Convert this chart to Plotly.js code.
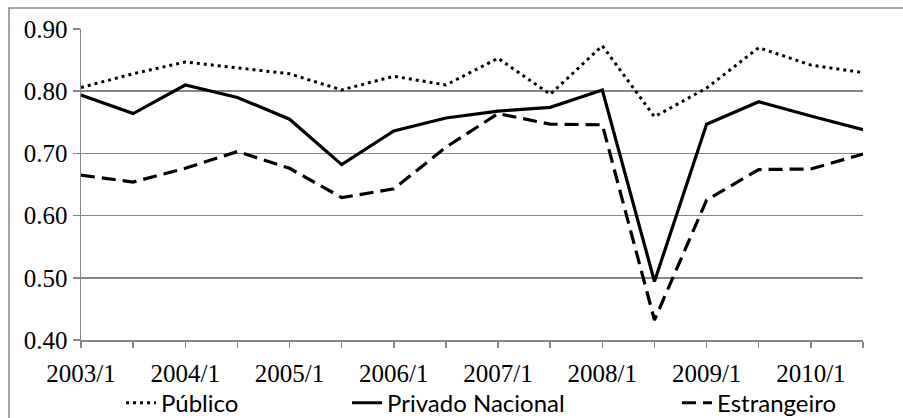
<!DOCTYPE html>
<html>
<head>
<meta charset="utf-8">
<script src="https://cdn.plot.ly/plotly-3.0.1.min.js"></script>
<style>html,body{margin:0;padding:0;background:#fff;}#chart{width:903px;height:418px;}</style>
</head>
<body>
<div id="chart"></div>
<script>
const periods = ["2003/1","2003/2","2004/1","2004/2","2005/1","2005/2","2006/1","2006/2",
                 "2007/1","2007/2","2008/1","2008/2","2009/1","2009/2","2010/1","2010/2"];
const publico = [0.806,0.828,0.847,0.837,0.828,0.802,0.824,0.810,0.853,0.795,0.873,0.759,0.805,0.870,0.842,0.830];
const privadoNacional = [0.794,0.764,0.810,0.790,0.755,0.682,0.736,0.757,0.768,0.774,0.802,0.494,0.747,0.783,0.760,0.738];
const estrangeiro = [0.665,0.654,0.676,0.703,0.676,0.629,0.643,0.710,0.764,0.747,0.746,0.432,0.625,0.674,0.675,0.699];
const seriesNames = ["Público","Privado Nacional","Estrangeiro"];
const yTicks = [0.40,0.50,0.60,0.70,0.80,0.90];

const tickText = periods.map((p,i)=> i%2===0 ? p : "");

const traces = [
  {x: periods, y: publico, name: seriesNames[0], type:'scatter', mode:'lines',
   line:{color:'#000', width:3, dash:'3px,4px'}, legend:'legend'},
  {x: periods, y: privadoNacional, name: seriesNames[1], type:'scatter', mode:'lines',
   line:{color:'#000', width:3.2}, legend:'legend2'},
  {x: periods, y: estrangeiro, name: seriesNames[2], type:'scatter', mode:'lines',
   line:{color:'#000', width:3.2, dash:'14px,7px'}, legend:'legend3'}
];

const serifFont = {family:'Liberation Serif', size:25, color:'#000'};
const legendFont = {family:'Lato', size:24, color:'#000'};
const legBase = {orientation:'h', yanchor:'middle', xanchor:'left', y:-0.203,
                 font:legendFont, bgcolor:'rgba(0,0,0,0)', borderwidth:0};

const layout = {
  width:903, height:418,
  margin:{l:81, r:40, t:29, b:78, autoexpand:false},
  paper_bgcolor:'#fff', plot_bgcolor:'#fff',
  showlegend:true,
  xaxis:{type:'category', range:[0, periods.length-1], tickmode:'array',
         tickvals: periods, ticktext: tickText, automargin:false,
         showgrid:false, zeroline:false, showline:true, linecolor:'#868686', linewidth:1.5,
         ticks:'outside', ticklen:6, tickcolor:'#868686', tickwidth:1.5, ticklabelstandoff:4,
         tickfont:serifFont},
  yaxis:{range:[0.40,0.90], tickmode:'array', tickvals:yTicks, tickformat:'.2f', automargin:false,
         showgrid:true, gridcolor:'#868686', gridwidth:1.5, zeroline:false,
         showline:true, linecolor:'#868686', linewidth:1.5,
         ticks:'outside', ticklen:7, tickcolor:'#868686', tickwidth:1.5,
         tickfont:serifFont},
  legend: Object.assign({}, legBase, {x:(121-81)/782}),
  legend2: Object.assign({}, legBase, {x:(347-81)/782}),
  legend3: Object.assign({}, legBase, {x:(677-81)/782}),
  shapes:[{type:'rect', xref:'paper', yref:'paper', x0:(9-81)/782, x1:1.5, y0:-1, y1:(340-8)/311,
           line:{color:'#868686', width:1.5}, fillcolor:'rgba(0,0,0,0)', layer:'below'}]
};

Plotly.newPlot('chart', traces, layout, {displayModeBar:false, staticPlot:true});
</script>
</body>
</html>
